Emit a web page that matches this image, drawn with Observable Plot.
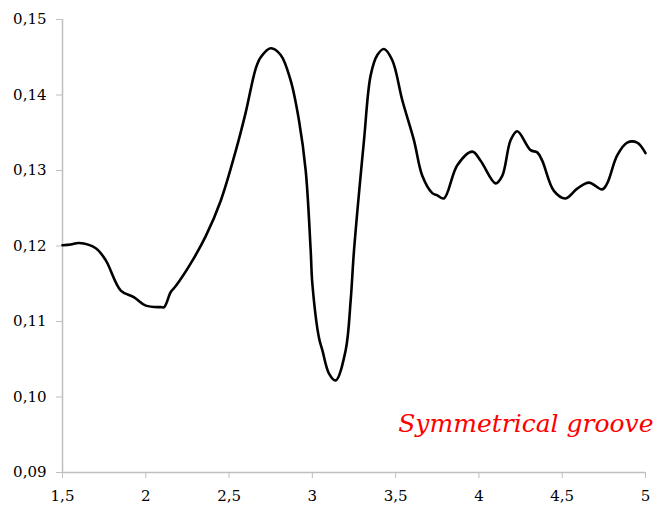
<!DOCTYPE html>
<html>
<head>
<meta charset="utf-8">
<script src="https://cdn.jsdelivr.net/npm/d3@7"></script>
<script src="https://cdn.jsdelivr.net/npm/@observablehq/plot@0.6"></script>
<style>
  html, body { margin: 0; padding: 0; background: #fff; }
  #chart svg { display: block; }
</style>
</head>
<body>
<div id="chart"></div>
<script>
const xs = [1.5, 1.55, 1.6, 1.7, 1.76, 1.85, 1.93, 2.0, 2.09, 2.11, 2.15, 2.18, 2.27, 2.36, 2.45, 2.54, 2.6, 2.66, 2.69, 2.75, 2.81, 2.87, 2.92, 2.96, 2.99, 3.0, 3.04, 3.06, 3.1, 3.14, 3.2, 3.23, 3.25, 3.31, 3.35, 3.39, 3.43, 3.48, 3.54, 3.61, 3.66, 3.72, 3.75, 3.79, 3.87, 3.96, 4.01, 4.1, 4.14, 4.19, 4.23, 4.31, 4.35, 4.38, 4.45, 4.52, 4.59, 4.66, 4.74, 4.77, 4.83, 4.89, 4.95, 5.0];
const ys = [0.1201, 0.1202, 0.1204, 0.1197, 0.1181, 0.1141, 0.1132, 0.1121, 0.1119, 0.1119, 0.1139, 0.1147, 0.1177, 0.1213, 0.1260, 0.1326, 0.1377, 0.1435, 0.1450, 0.1462, 0.1453, 0.1419, 0.1366, 0.1300, 0.1194, 0.1150, 0.1078, 0.1062, 0.1031, 0.1022, 0.1062, 0.1128, 0.1194, 0.1340, 0.1426, 0.1453, 0.1461, 0.1446, 0.1393, 0.1340, 0.1293, 0.1270, 0.1267, 0.1263, 0.1307, 0.1325, 0.1313, 0.1283, 0.1293, 0.1340, 0.1352, 0.1327, 0.1324, 0.1313, 0.1273, 0.1263, 0.1276, 0.1284, 0.1275, 0.1283, 0.1320, 0.1337, 0.1337, 0.1323];
const xTicks = [1.5, 2, 2.5, 3, 3.5, 4, 4.5, 5];
const yTicks = [0.09, 0.10, 0.11, 0.12, 0.13, 0.14, 0.15];
const label = "Symmetrical groove";

const data = xs.map((x, i) => ({x, y: ys[i]}));
const axisGray = "#bfbfbf";
const serif = "DejaVu Serif";

const chart = Plot.plot({
  width: 657,
  height: 506,
  marginLeft: 62,
  marginRight: 12,
  marginTop: 19,
  marginBottom: 34,
  style: "font-family: DejaVu Serif; font-size: 15px; background: #fff; color: #000;",
  x: { domain: [xTicks[0], xTicks[xTicks.length - 1]] },
  y: { domain: [yTicks[0], yTicks[yTicks.length - 1]] },
  marks: [
    Plot.ruleX([xTicks[0]], { stroke: axisGray, strokeWidth: 1.5 }),
    Plot.ruleY([yTicks[0]], { stroke: axisGray, strokeWidth: 1.5 }),
    Plot.axisY(yTicks, {
      tickSize: 6, tickPadding: 10, stroke: axisGray, fill: "#000", fontFamily: serif,
      tickFormat: d => d.toFixed(2).replace(".", ","), label: null, fontSize: 15
    }),
    Plot.axisX(xTicks, {
      tickSize: 6, tickPadding: 12, stroke: axisGray, fill: "#000", fontFamily: serif,
      tickFormat: d => String(d).replace(".", ","), label: null, fontSize: 15
    }),
    Plot.line(data, { x: "x", y: "y", curve: "catmull-rom", stroke: "#000", strokeWidth: 2.6 }),
    Plot.text([label], {
      frameAnchor: "bottom-right", text: d => d, fill: "#ff0000",
      fontSize: 25, fontStyle: "italic", fontFamily: serif,
      textAnchor: "end", lineAnchor: "bottom", dx: 8, dy: -41
    })
  ]
});
document.getElementById("chart").appendChild(chart);
</script>
</body>
</html>
